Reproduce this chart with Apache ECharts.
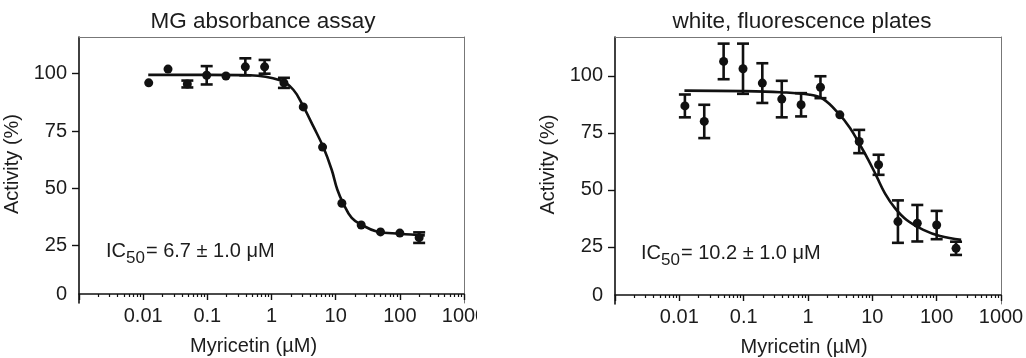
<!DOCTYPE html>
<html><head><meta charset="utf-8">
<script src="https://cdn.jsdelivr.net/npm/echarts@6/dist/echarts.min.js"></script>
<style>
html,body{margin:0;padding:0;background:#fff;}
#wrap{position:relative;width:1026px;height:358px;overflow:hidden;}
#c1{position:absolute;left:0;top:0;width:477px;height:358px;}
#c2{position:absolute;left:477px;top:0;width:549px;height:358px;}
</style></head>
<body><div id="wrap"><div id="c1"></div><div id="c2"></div></div>
<script>
// ---- data ----
const CONC = [0.0122, 0.0244, 0.0488, 0.0977, 0.195, 0.391, 0.781, 1.5625, 3.125, 6.25, 12.5, 25, 50, 100, 200];

const MG_MEAN = [96, 102, 95.5, 99.3, 99, 103, 103, 96, 85.5, 68, 43.5, 34, 31, 30.5, 28.5];
const MG_ERR  = [0, 0, 1.5, 4, 0, 3.7, 3, 2.2, 0, 0, 0, 0, 0, 0, 2.3];
const MG_FIT_X = [0.012, 0.1, 0.46, 1.36, 2.19, 3.13, 4.49, 6.41, 8.67, 10.6, 13.1, 17.8, 25.4, 43.6, 100, 245];
const MG_FIT_Y = [99.5, 99.5, 99.3, 97.1, 93.0, 85.7, 77.0, 68.0, 58.1, 49.5, 43.5, 37.1, 34.1, 31.2, 30.2, 29.5];

const WF_MEAN = [86.8, 80, 106.3, 103.1, 96.8, 89.8, 87.3, 95, 82.9, 71.2, 61, 36.1, 35.4, 34.6, 24.4];
const WF_ERR  = [5, 7.3, 7.8, 11, 8.7, 8, 5.1, 4.8, 0, 5.1, 4.4, 9.3, 8, 6.2, 2.9];
const WF_FIT_X = [0.012, 0.1, 0.37, 1.07, 1.73, 2.96, 4.5, 6.43, 8.66, 11.7, 15.7, 22.5, 34.2, 62.1, 112.7, 240];
const WF_FIT_Y = [93.5, 93.3, 92.8, 91.7, 89.8, 83.6, 77.1, 69.7, 63.2, 55.8, 48.5, 42.0, 36.8, 32.5, 29.8, 28.1];

const X_MAJOR = [0.001, 0.01, 0.1, 1, 10, 100, 1000];
const X_TICKS = [0.01, 0.1, 1, 10, 100, 1000];
const X_TICK_LABELS = ['0.01', '0.1', '1', '10', '100', '1000'];
const Y_TICKS = [0, 25, 50, 75, 100];
const Y_TICK_LABELS = ['0', '25', '50', '75', '100'];
const TITLES = ['MG absorbance assay', 'white, fluorescence plates'];
const IC50_TEXT = ['6.7 ± 1.0 μM', '10.2 ± 1.0 μM'];
const X_NAME = 'Myricetin (µM)';
const Y_NAME = 'Activity (%)';

// ---- styling ----
const FONT = '"Liberation Sans", Arial, sans-serif';
const INK = '#111';
const TXT = '#1c1c1c';

const X_MINOR = [];
for (let d = 0; d < X_MAJOR.length - 1; d++) {
  for (let m = 2; m <= 9; m++) X_MINOR.push(+(X_MAJOR[d] * m).toPrecision(6));
}

function fmtX(v) {
  for (let i = 0; i < X_TICKS.length; i++) {
    if (Math.abs(Math.log10(v) - Math.log10(X_TICKS[i])) < 1e-6) return X_TICK_LABELS[i];
  }
  return '';
}
function fmtY(v) {
  const i = Y_TICKS.indexOf(v);
  if (i < 0) return '';
  return v === 0 ? '{z|' + Y_TICK_LABELS[i] + '}' : Y_TICK_LABELS[i];
}

function build(c) {
  const errData = [];
  CONC.forEach((x, i) => { if (c.err[i] > 0) errData.push([x, c.mean[i] - c.err[i], c.mean[i] + c.err[i]]); });
  return {
    animation: false,
    backgroundColor: '#fff',
    title: [
      { text: c.title, left: c.titleX, top: c.titleY, textAlign: 'center', padding: 0,
        textStyle: { fontFamily: FONT, fontSize: 22.5, fontWeight: 'normal', color: TXT } },
      { text: '{a|IC}{s|50}{a|= ' + c.ic + '}', left: c.icX, top: c.icY, padding: 0,
        textStyle: { fontWeight: 'normal', rich: {
          a: { fontFamily: FONT, fontSize: 20, fontWeight: 'normal', color: TXT },
          s: { fontFamily: FONT, fontSize: 17, fontWeight: 'normal', color: TXT, padding: [14, 1, 0, 0] }
        } } }
    ],
    grid: { left: c.gridLeft, top: 37, width: c.gridWidth, height: c.gridHeight,
      containLabel: false, outerBoundsMode: 'none' },
    xAxis: [
      { type: 'log', logBase: 10, min: 0.001, max: 1000, position: 'bottom', offset: -9,
        axisLine: { show: true, onZero: false, lineStyle: { color: INK, width: 1.6 } },
        axisTick: { show: true, customValues: X_MAJOR, length: 6, lineStyle: { color: INK, width: 1.4 } },
        axisLabel: { customValues: X_TICKS, formatter: fmtX, margin: 12, fontFamily: FONT, fontSize: 20, color: TXT },
        splitLine: { show: false }, minorTick: { show: false },
        name: X_NAME, nameLocation: 'middle', nameGap: 42,
        nameTextStyle: { fontFamily: FONT, fontSize: 20, color: TXT, padding: c.xNamePad } },
      { type: 'log', logBase: 10, min: 0.001, max: 1000, position: 'bottom', offset: -9,
        axisLine: { show: false },
        axisTick: { show: true, customValues: X_MINOR, length: 3, lineStyle: { color: INK, width: 1.2 } },
        axisLabel: { show: false }, splitLine: { show: false } },
      { type: 'value', min: 0, max: 1, position: 'top',
        axisLine: { show: true, onZero: false, lineStyle: { color: '#777', width: 1 } },
        axisTick: { show: false }, axisLabel: { show: false }, splitLine: { show: false } }
    ],
    yAxis: [
      { type: 'value', min: 0, max: c.yMax, position: 'left',
        axisLine: { show: true, onZero: false, lineStyle: { color: INK, width: 1.6 } },
        axisTick: { show: true, customValues: [25, 50, 75, 100], length: 7, lineStyle: { color: INK, width: 1.4 } },
        axisLabel: { customValues: Y_TICKS, formatter: fmtY, margin: 12, fontFamily: FONT, fontSize: 20, color: TXT,
          rich: { z: { fontFamily: FONT, fontSize: 20, color: TXT, padding: [0, 0, 18, 0] } } },
        splitLine: { show: false },
        name: Y_NAME, nameLocation: 'middle', nameGap: 52, nameRotate: 90,
        nameTextStyle: { fontFamily: FONT, fontSize: 20, color: TXT, padding: [0, 0, 0, 12] } },
      { type: 'value', min: 0, max: 1, position: 'right',
        axisLine: { show: true, onZero: false, lineStyle: { color: '#777', width: 1 } },
        axisTick: { show: false }, axisLabel: { show: false }, splitLine: { show: false } }
    ],
    series: [
      { type: 'line', xAxisIndex: 0, yAxisIndex: 0, data: c.fitX.map((x, i) => [x, c.fitY[i]]),
        smooth: 0.4, showSymbol: false, symbol: 'none', lineStyle: { color: INK, width: 2.6 }, z: 2 },
      { type: 'custom', xAxisIndex: 0, yAxisIndex: 0, data: errData, encode: { x: 0, y: [1, 2] }, z: 3,
        renderItem: function (params, api) {
          const x = api.value(0), lo = api.value(1), hi = api.value(2);
          const p1 = api.coord([x, hi]), p2 = api.coord([x, lo]);
          const w = 6, st = { stroke: INK, lineWidth: 2.6 };
          return { type: 'group', children: [
            { type: 'line', shape: { x1: p1[0], y1: p1[1], x2: p2[0], y2: p2[1] }, style: st },
            { type: 'line', shape: { x1: p1[0] - w, y1: p1[1], x2: p1[0] + w, y2: p1[1] }, style: st },
            { type: 'line', shape: { x1: p2[0] - w, y1: p2[1], x2: p2[0] + w, y2: p2[1] }, style: st }
          ] };
        } },
      { type: 'scatter', xAxisIndex: 0, yAxisIndex: 0, data: CONC.map((x, i) => [x, c.mean[i]]),
        symbol: 'circle', symbolSize: 9, itemStyle: { color: INK, opacity: 1 }, z: 4 }
    ]
  };
}

const ch1 = echarts.init(document.getElementById('c1'), null, { renderer: 'canvas' });
ch1.setOption(build({
  title: TITLES[0], titleX: 263, titleY: 10, ic: IC50_TEXT[0], icX: 106, icY: 236,
  gridLeft: 79, gridWidth: 385, gridHeight: 266, yMax: 116, xNamePad: [0, 36, 0, 0],
  mean: MG_MEAN, err: MG_ERR, fitX: MG_FIT_X, fitY: MG_FIT_Y
}));
const ch2 = echarts.init(document.getElementById('c2'), null, { renderer: 'canvas' });
ch2.setOption(build({
  title: TITLES[1], titleX: 325, titleY: 10, ic: IC50_TEXT[1], icX: 164, icY: 238,
  gridLeft: 138, gridWidth: 386, gridHeight: 267, yMax: 117, xNamePad: [0, 8, 0, 0],
  mean: WF_MEAN, err: WF_ERR, fitX: WF_FIT_X, fitY: WF_FIT_Y
}));
</script>
</body></html>
